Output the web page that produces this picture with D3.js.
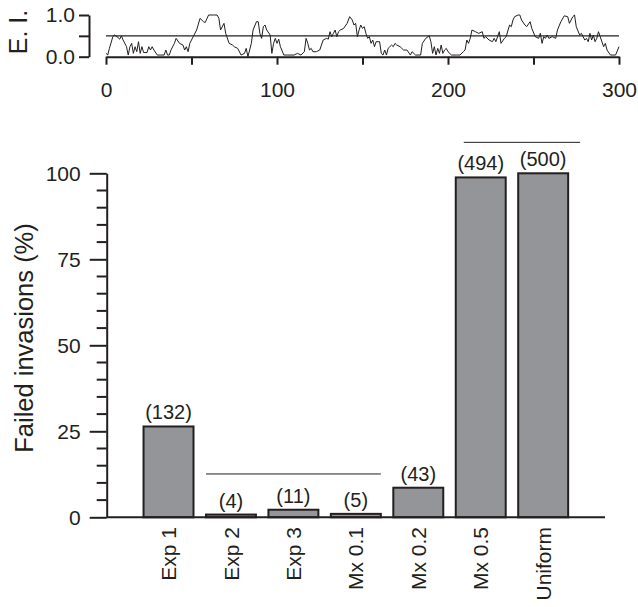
<!DOCTYPE html>
<meta charset="utf-8">
<style>
body { margin: 0; background: #fff; }
svg text { font-family: "Liberation Sans", Arial, Helvetica, sans-serif; fill: #231f20; }
.axis path, .axis line { stroke: #231f20; stroke-width: 2px; }
</style>
<svg width="638" height="607"></svg>
<script src="https://d3js.org/d3.v7.min.js"></script>
<script>

// top panel: E. I. over time
var eiTime = [0,1,2,4,5,7,8,9,10,12,13,14,15,16,17,18,19,20,21,22,24,25,26,27,28,30,32,34,35,36,37,38,40,41,43,45,46,47,48,49,51,53,55,57,58,60,63,65,66,67,69,70,72,74,75,77,79,81,82,83,84,85,86,88,89,90,91,92,93,94,96,97,98,99,100,101,102,104,106,110,112,114,116,
  117,118,119,120,121,123,125,127,129,130,131,132,133,134,135,136,137,139,141,142.5,144,145,146,147,148,149,150,151,152,153,154,155,156,157,158,160,161,162,163,164,165,166,167,168,169,170,172,174,176,178,179,181,184,185,187,189,190,191,192,193,194,195,196,197,198,199,200,202,205,207,209,210,211,212,213,214,216,218,220,221,222,224,226,227,228,230,231,233,234,236,237,238,239,241,242,243,245,246,248,249,251,253,254,255,256,257,258,259,261,263,264,266,268,270,271,273,274,275,277,278,280,281,282,283,284,285,286,287,288,289,291,292,293,295,298,300];
var eiValue = [0.08,0.04,0.2,0.48,0.52,0.46,0.42,0.5,0.4,0.24,0.04,0.24,0.32,0.08,0.24,0.12,0.36,0.08,0.24,0.1,0.1,0.24,0.16,0.24,0.16,0.04,0.04,0.04,0.16,0.04,0.04,0.16,0.32,0.44,0.32,0.28,0.16,0.24,0.12,0.32,0.48,0.64,0.92,0.84,0.82,1,1,1,0.92,0.64,0.8,0.56,0.32,0.28,0.24,0.2,0.04,0.08,0.2,0,0.16,0.32,0.64,0.84,0.84,0.56,0.44,0.72,0.76,0.64,0.52,0.08,0.32,0.44,0.32,0.42,0.24,0.04,0.04,0.04,0.08,0.04,0.12,
  0.44,0.32,0.16,0.2,0.12,0.12,0.16,0.4,0.44,0.42,0.6,0.48,0.56,0.64,0.48,0.6,0.64,0.68,0.8,0.96,0.88,0.76,0.8,0.48,0.64,0.76,0.68,0.72,0.56,0.44,0.48,0.32,0.4,0.24,0.36,0.36,0.08,0.04,0.16,0.04,0.2,0.24,0.28,0.24,0.32,0.28,0.24,0.16,0.16,0.04,0.12,0.04,0.04,0.32,0.44,0.5,0.36,0.08,0.24,0.04,0.2,0.08,0.28,0.08,0.16,0.2,0.12,0.04,0.04,0.04,0.12,0.16,0.4,0.32,0.44,0.64,0.6,0.56,0.6,0.44,0.48,0.4,0.36,0.44,0.36,0.6,0.32,0.44,0.48,0.76,0.72,0.88,0.96,1,1,0.88,0.76,0.72,0.84,0.68,0.48,0.44,0.56,0.32,0.48,0.44,0.52,0.44,0.48,0.44,0.64,0.84,0.98,0.96,0.8,0.96,1,0.72,0.52,0.56,0.4,0.44,0.36,0.56,0.4,0.52,0.36,0.44,0.6,0.48,0.24,0.32,0.16,0.04,0.04,0.24];
var eiThreshold = 0.5;
var eiXTicks = [0, 50, 100, 150, 200, 250, 300];
var eiYTicks = [0, 0.5, 1];

// bottom panel: failed invasions
var categories = ["Exp 1", "Exp 2", "Exp 3", "Mx 0.1", "Mx 0.2", "Mx 0.5", "Uniform"];
var failedPct = [26.4, 0.8, 2.2, 1.0, 8.6, 98.8, 100];
var failedCount = [132, 4, 11, 5, 43, 494, 500];
var majorTicks = [0, 25, 50, 75, 100];
var minorTicks = d3.range(0, 101, 5).filter(function(v) { return v % 25 != 0; });
var sigFrom = ["Exp 2", "Mx 0.5"];
var sigTo = ["Mx 0.1", "Uniform"];
var sigLevel = [12.6, 109];

var svg = d3.select("svg");
var ink = "#231f20";

// ---- top panel ----
var tx = d3.scaleLinear().domain([0, 300]).range([106, 619]);
var ty = d3.scaleLinear().domain([0, 1]).range([56.7, 15]);

svg.append("g")
    .attr("class", "axis")
    .attr("transform", "translate(0," + ty(0) + ")")
    .call(d3.axisBottom(tx).tickValues(eiXTicks).tickSize(8).tickSizeOuter(0).tickPadding(17)
      .tickFormat(function(d) { return d % 100 == 0 ? d : ""; }))
    .call(function(g) { g.selectAll("text").style("font-size", "21px"); });

svg.append("g")
    .attr("class", "axis")
    .attr("transform", "translate(89,0)")
    .call(d3.axisLeft(ty).tickValues(eiYTicks).tickSize(10).tickSizeOuter(0).tickPadding(4)
      .tickFormat(function(d) { return d == 0.5 ? "" : d3.format(".1f")(d); }))
    .call(function(g) { g.selectAll("text").style("font-size", "21px"); });

svg.append("line")
    .attr("x1", tx(0)).attr("x2", tx(300))
    .attr("y1", ty(eiThreshold)).attr("y2", ty(eiThreshold))
    .attr("stroke", ink).attr("stroke-width", 1.2);

var eiLine = d3.line()
    .x(function(d, i) { return tx(eiTime[i]); })
    .y(function(d) { return ty(d); });

svg.append("path")
    .datum(eiValue)
    .attr("d", eiLine)
    .attr("fill", "none")
    .attr("stroke", ink)
    .attr("stroke-width", 1);

svg.append("text")
    .attr("transform", "translate(27,32) rotate(-90)")
    .attr("text-anchor", "middle")
    .style("font-size", "25px")
    .text("E. I.");

// ---- bottom panel ----
var x = d3.scaleBand().domain(categories).range([106.7, 605]).paddingInner(0.2).paddingOuter(0.59);
var y = d3.scaleLinear().domain([0, 100]).range([517.3, 173.3]);

var ya = svg.append("g")
    .attr("class", "axis")
    .attr("transform", "translate(106.7,0)");
ya.call(d3.axisLeft(y).tickValues(majorTicks).tickSize(17).tickSizeOuter(0).tickPadding(9))
  .call(function(g) { g.selectAll("text").style("font-size", "21px"); });
ya.selectAll(".minor")
    .data(minorTicks)
  .enter().append("line")
    .attr("class", "minor")
    .attr("x1", -10).attr("x2", 0)
    .attr("y1", function(d) { return y(d); })
    .attr("y2", function(d) { return y(d); });

svg.append("g")
    .selectAll("rect")
    .data(failedPct)
  .enter().append("rect")
    .attr("x", function(d, i) { return x(categories[i]); })
    .attr("y", function(d) { return y(d); })
    .attr("width", x.bandwidth())
    .attr("height", function(d) { return y(0) - y(d); })
    .attr("fill", "#939598")
    .attr("stroke", ink)
    .attr("stroke-width", 2);

svg.append("line")
    .attr("x1", 106.7).attr("x2", 605)
    .attr("y1", y(0)).attr("y2", y(0))
    .attr("stroke", ink).attr("stroke-width", 2);

svg.append("g")
    .selectAll("text")
    .data(failedCount)
  .enter().append("text")
    .attr("x", function(d, i) { return x(categories[i]) + x.bandwidth() / 2; })
    .attr("y", function(d, i) { return y(failedPct[i]) - 7; })
    .attr("text-anchor", "middle")
    .style("font-size", "20px")
    .text(function(d) { return "(" + d + ")"; });

svg.append("g")
    .selectAll("text")
    .data(categories)
  .enter().append("text")
    .attr("transform", function(d) { return "translate(" + (x(d) + x.bandwidth() / 2) + ",527) rotate(-90)"; })
    .attr("text-anchor", "end")
    .attr("dy", "0.36em")
    .style("font-size", "21px")
    .text(function(d) { return d; });

svg.append("g")
    .selectAll("line")
    .data(sigLevel)
  .enter().append("line")
    .attr("x1", function(d, i) { return x(sigFrom[i]) + (i == 1 ? 8 : 0); })
    .attr("x2", function(d, i) { return x(sigTo[i]) + x.bandwidth() + (i == 1 ? 12 : 0); })
    .attr("y1", function(d) { return y(d); })
    .attr("y2", function(d) { return y(d); })
    .attr("stroke", ink)
    .attr("stroke-width", 1);

svg.append("text")
    .attr("transform", "translate(33,338) rotate(-90)")
    .attr("text-anchor", "middle")
    .style("font-size", "25.5px")
    .text("Failed invasions (%)");

</script>
